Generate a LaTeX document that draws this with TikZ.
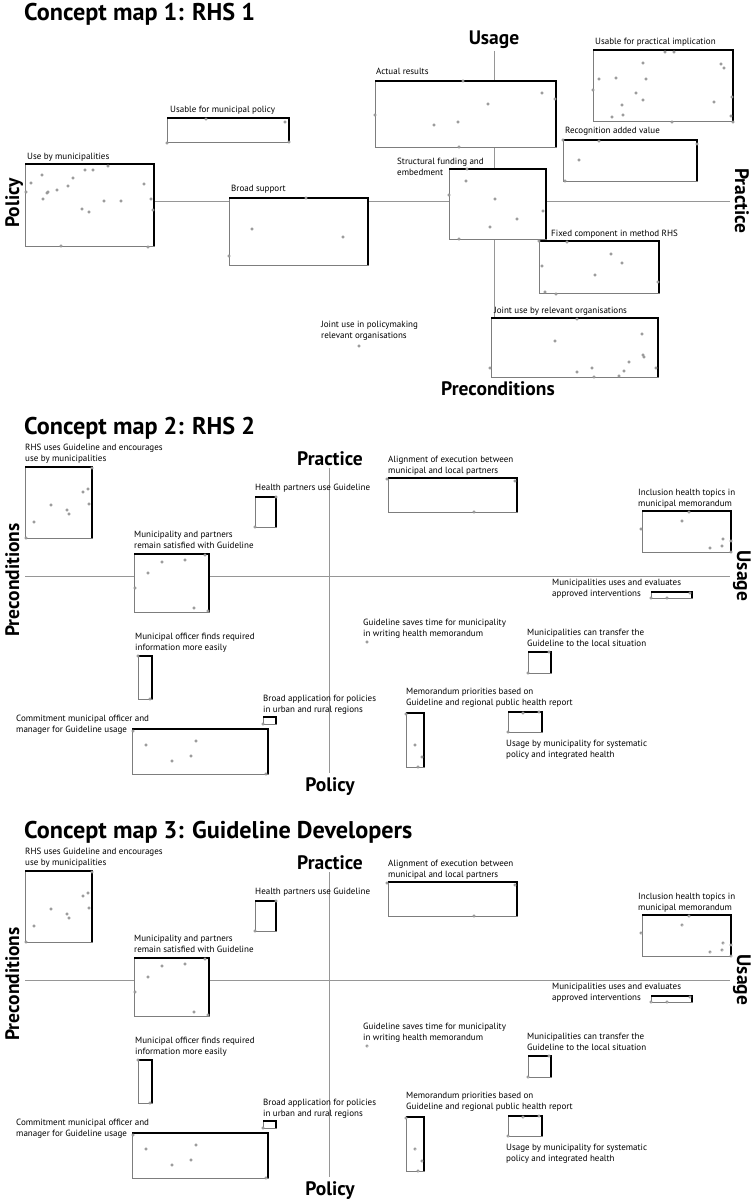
\documentclass[tikz,border=0pt]{standalone}
\usepackage{fontspec}
\setmainfont{PT Sans}
\usepackage{tikz}
\usetikzlibrary{positioning}
\definecolor{axisgray}{RGB}{150,150,150}
\definecolor{edgegray}{RGB}{125,125,125}
\definecolor{dotgray} {RGB}{120,120,120}

\tikzset{
  maptitle/.style={font=\fontsize{24.2}{28}\selectfont\bfseries, inner sep=0pt, anchor=north west},
  axislabel/.style={font=\fontsize{19.5}{21}\selectfont\bfseries, inner sep=0pt, anchor=base},
  lbl/.style={font=\fontsize{9}{11}\selectfont, inner sep=0pt, anchor=north west, align=left},
  axisline/.style={axisgray, line width=0.8pt},
  dotmark/.style={dotgray, line width=0.45pt, fill=white},
  cbox/.style={draw=edgegray, line width=0.6pt, fill=white, inner sep=0pt, outer sep=0pt, anchor=north west},
  mapbox/.style 2 args={cbox, minimum width=#1pt, minimum height=#2pt},
  topedge/.style={black, line width=1.8pt},
  sideedge/.style={black, line width=2.8pt},
}

% maps 2 and 3 share one layout
\newcommand{\guidelinemap}{%
  % axes
  \draw[axisline] (25,576) -- (730,576);
  \draw[axisline] (329,468) -- (329,773);
  \node[axislabel] (prac) at (330,465) {Practice};
  \node[axislabel] (pol) at (330,791) {Policy};
  \node[axislabel, rotate=90] (prec) at (19,580) {Preconditions};
  \node[axislabel, rotate=-90] (usg) at (737,576) {Usage};
  % labels
  \node[lbl] (lrhs) at (25,444) {RHS uses Guideline and encourages\\use by municipalities};
  \node[lbl] (lhealth) at (255,484) {Health partners use Guideline};
  \node[lbl] (lsatis) at (134,531) {Municipality and partners\\remain satisfied with Guideline};
  \node[lbl] (lalign) at (388,456) {Alignment of execution between\\municipal and local partners};
  \node[lbl] (lincl) at (638,489) {Inclusion health topics in\\municipal memorandum};
  \node[lbl] (leval) at (552,579) {Municipalities uses and evaluates\\approved interventions};
  \node[lbl] (lsaves) at (363,619) {Guideline saves time for municipality\\in writing health memorandum};
  \node[lbl] (lofficer) at (135,633) {Municipal officer finds required\\information more easily};
  \node[lbl] (ltransf) at (527,629) {Municipalities can transfer the\\Guideline to the local situation};
  \node[lbl] (lbroad) at (263,695) {Broad application for policies\\in urban and rural regions};
  \node[lbl] (lcommit) at (16,715) {Commitment municipal officer and\\manager for Guideline usage};
  \node[lbl] (lmemo) at (406,688) {Memorandum priorities based on\\Guideline and regional public health report};
  \node[lbl] (lsyst) at (506,740) {Usage by municipality for systematic\\policy and integrated health};
  % boxes
  \node[mapbox={67}{71}] (rhs) at (25,467) {};
  \node[mapbox={21}{30}] (health) at (255,497) {};
  \node[mapbox={75}{58}] (satis) at (134,554) {};
  \node[mapbox={129}{34}] (align) at (388,478) {};
  \node[mapbox={89}{41}] (incl) at (642,511) {};
  \node[mapbox={41}{6}] (eval) at (651,592) {};
  \node[mapbox={14}{43}] (officer) at (138,656) {};
  \node[mapbox={23}{21}] (transf) at (528,652) {};
  \node[mapbox={13}{7}] (broad) at (263,717) {};
  \node[mapbox={136}{45}] (commit) at (132,729) {};
  \node[mapbox={18}{54}] (memo) at (406,713) {};
  \node[mapbox={34}{20}] (syst) at (508,712) {};
  \foreach \b in {rhs,health,satis,align,incl,eval,officer,transf,broad,commit,memo,syst} {
    \draw[topedge] (\b.north west) -- (\b.north east);
    \draw[sideedge] ([yshift=0.9pt]\b.north east) -- (\b.south east);
  }
  % scores
  \foreach \p in {(92,468),(88,489),(83,492),(89,504),(51,505),(67,510),(69,514),(34,522),(26,538),
      (276,497),(255,527),(205,555),(185,560),(162,562),(148,573),(135,588),(194,608),(208,611),
      (387,479),(515,481),(474,512),(689,512),(682,521),(641,529),(723,539),(731,541),(722,546),(710,548),(731,552),
      (651,598),(667,598),(690,593),(367,642),(138,656),(150,699),(263,724),
      (133,731),(146,745),(196,741),(191,756),(172,761),(266,774),
      (549,652),(528,673),(406,714),(415,745),(422,757),(418,767),(523,713),(539,712),(508,732)}
    \draw[dotmark] \p circle (1.3);
}

\begin{document}
\begin{tikzpicture}[x=1pt, y=-1pt]
  \fill[white] (0,0) rectangle (754,1204);
  \useasboundingbox (0,0) rectangle (754,1204);

  % ---------- concept map 1 ----------
  \node[maptitle] (t1) at (24,3) {Concept map 1: RHS 1};
  \draw[axisline] (25,201) -- (730,201);
  \draw[axisline] (494,51) -- (494,377);
  \node[axislabel] (usage1) at (494,45) {Usage};
  \node[axislabel] (prec1) at (498,395) {Preconditions};
  \node[axislabel, rotate=90] (policy1) at (19,203) {Policy};
  \node[axislabel, rotate=-90] (practice1) at (735,201) {Practice};
  % labels
  \node[lbl] (lusepol) at (170,106) {Usable for municipal policy};
  \node[lbl] (lusemun) at (27,153) {Use by municipalities};
  \node[lbl] (lsupport) at (231,185) {Broad support};
  \node[lbl] (lactual) at (376,68) {Actual results};
  \node[lbl] (lpractical) at (595,38) {Usable for practical implication};
  \node[lbl] (lrecog) at (565,127) {Recognition added value};
  \node[lbl] (lfund) at (397,158) {Structural funding and\\embedment};
  \node[lbl] (lfixed) at (551,230) {Fixed component in method RHS};
  \node[lbl] (ljointpol) at (321,321) {Joint use in policymaking\\relevant organisations};
  \node[lbl] (ljointorg) at (494,307) {Joint use by relevant organisations};
  % boxes
  \node[mapbox={122}{24}] (usepol) at (167,118) {};
  \node[mapbox={129}{82}] (usemun) at (25,164) {};
  \node[mapbox={139}{67}] (support) at (229,198) {};
  \node[mapbox={181}{66}] (actual) at (375,81) {};
  \node[mapbox={140}{71}] (practical) at (593,50) {};
  \node[mapbox={134}{41}] (recog) at (563,140) {};
  \node[mapbox={97}{70}] (fund) at (449,169) {};
  \node[mapbox={120}{52}] (fixed) at (539,241) {};
  \node[mapbox={167}{59}] (jointorg) at (491,318) {};
  \foreach \b in {usepol,usemun,support,actual,practical,recog,fund,fixed,jointorg} {
    \draw[topedge] (\b.north west) -- (\b.north east);
    \draw[sideedge] ([yshift=0.9pt]\b.north east) -- (\b.south east);
  }
  % scores
  \foreach \p in {(31,183),(42,175),(47,193),(48,192),(43,199),(57,190),(68,186),(73,178),(85,170),(93,170),
      (108,166),(144,184),(151,199),(153,210),(104,201),(121,201),(82,209),(89,212),(61,246),(148,247),(26,192),
      (206,119),(285,122),(167,143),(289,142),(306,198),(252,229),(343,237),(229,256),
      (463,81),(542,93),(555,99),(488,104),(375,115),(458,122),(434,125),(459,147),
      (665,52),(674,52),(643,63),(721,64),(724,68),(599,79),(616,78),(646,79),(593,90),(636,93),(643,100),
      (732,97),(714,102),(622,105),(623,115),(612,117),(672,122),(731,116),(733,122),
      (599,141),(563,140),(697,144),(579,160),(565,181),
      (467,169),(466,181),(449,195),(495,199),(543,211),(517,219),(490,227),(459,239),
      (567,242),(539,241),(611,254),(622,263),(542,266),(595,275),(658,282),(545,292),(556,294),
      (577,319),(555,341),(642,334),(643,355),(644,357),(629,362),(490,368),(592,368),(577,372),
      (594,377),(619,376),(624,371),(656,368),(359,346)}
    \draw[dotmark] \p circle (1.3);

  % ---------- concept map 2 ----------
  \node[maptitle] (t2) at (24,417) {Concept map 2: RHS 2};
  \begin{scope}[name prefix=m2-]
    \guidelinemap
  \end{scope}

  % ---------- concept map 3 ----------
  \node[maptitle] (t3) at (24,821) {Concept map 3: Guideline Developers};
  \begin{scope}[shift={(0,404)}, name prefix=m3-]
    \guidelinemap
  \end{scope}
\end{tikzpicture}
\end{document}
